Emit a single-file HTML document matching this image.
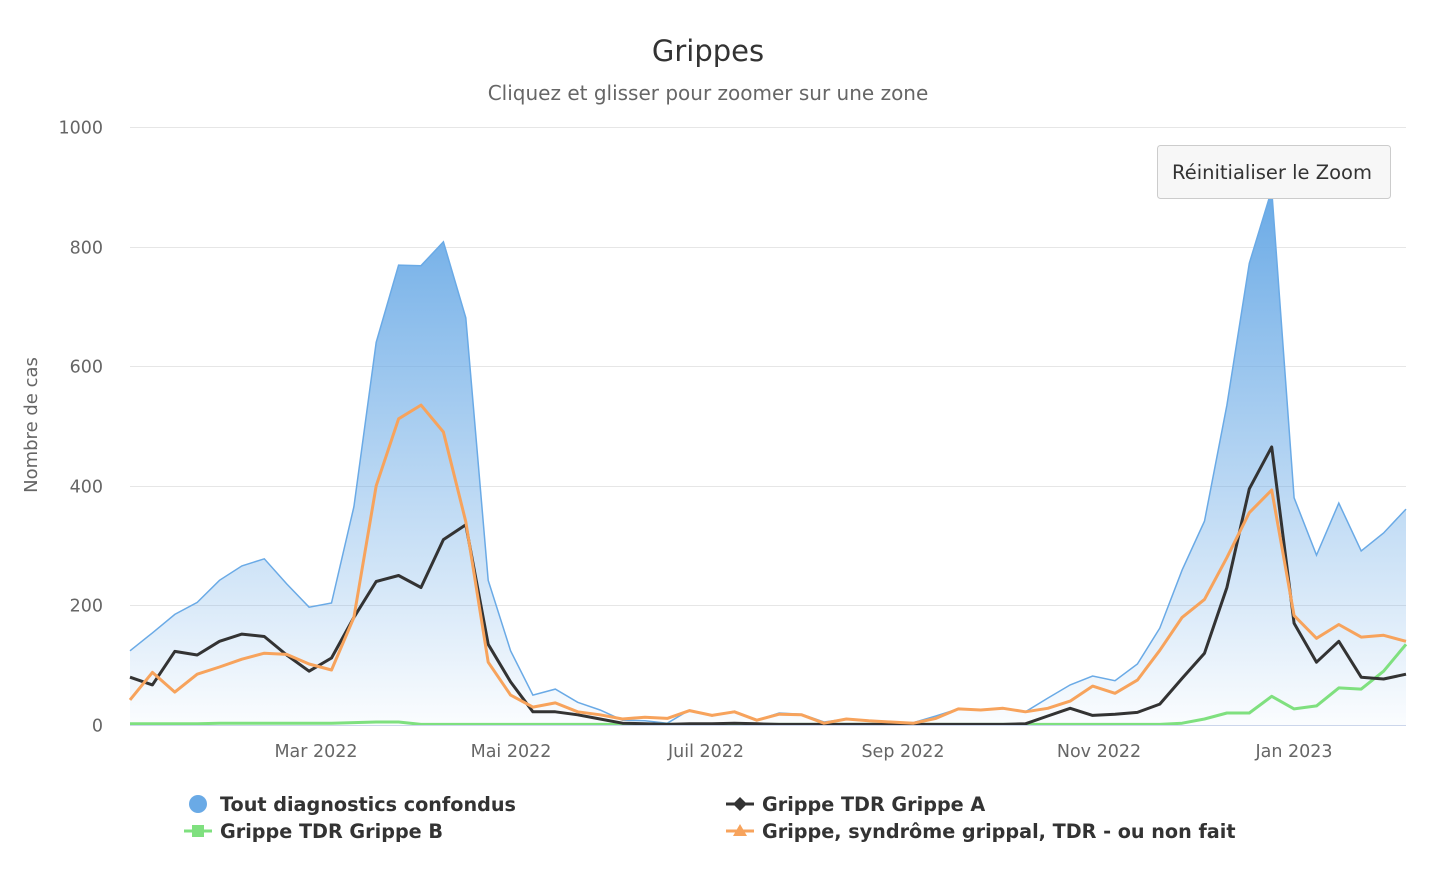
<!DOCTYPE html>
<html><head><meta charset="utf-8"><style>
body{margin:0;background:#fff;}
svg text{font-family:"DejaVu Sans",sans-serif;}
</style></head><body>
<svg id="c" width="1431" height="877" xmlns="http://www.w3.org/2000/svg">
<defs><linearGradient id="g" x1="0" y1="0" x2="0" y2="1">
<stop offset="0" stop-color="#6aaae6" stop-opacity="1"/>
<stop offset="1" stop-color="#6aaae6" stop-opacity="0.03"/>
</linearGradient></defs>
<text x="708" y="61" text-anchor="middle" font-size="29" fill="#333">Grippes</text>
<text x="708" y="100" text-anchor="middle" font-size="20" fill="#666">Cliquez et glisser pour zoomer sur une zone</text>
<g id="grid"></g>
<text transform="translate(37,425) rotate(-90)" text-anchor="middle" font-size="18" fill="#666">Nombre de cas</text>
<g id="series"></g>
<line x1="130" y1="725.5" x2="1406" y2="725.5" stroke="#ccd6eb" stroke-width="1"/>
<g font-size="17.5" fill="#666" text-anchor="middle">
<text x="316" y="757">Mar 2022</text><text x="511" y="757">Mai 2022</text><text x="706" y="757">Juil 2022</text>
<text x="903" y="757">Sep 2022</text><text x="1099" y="757">Nov 2022</text><text x="1294" y="757">Jan 2023</text>
</g>
<rect x="1157.5" y="145.5" width="233" height="53" rx="3" fill="#f7f7f7" stroke="#cccccc"/>
<text x="1272" y="179" text-anchor="middle" font-size="19.5" fill="#333">Réinitialiser le Zoom</text>
<g font-size="19.2" font-weight="bold" fill="#333">
<circle cx="198" cy="804" r="9" fill="#6aaae6"/>
<text x="220" y="811">Tout diagnostics confondus</text>
<line x1="184" y1="831" x2="212" y2="831" stroke="#7fe07f" stroke-width="3"/>
<rect x="192" y="825" width="12" height="12" fill="#7fe07f"/>
<text x="220" y="838">Grippe TDR Grippe B</text>
<line x1="726" y1="804" x2="754" y2="804" stroke="#333" stroke-width="3"/>
<path d="M740 797 L747 804 L740 811 L733 804Z" fill="#333"/>
<text x="762" y="811">Grippe TDR Grippe A</text>
<line x1="726" y1="831" x2="754" y2="831" stroke="#f7a35c" stroke-width="3"/>
<path d="M740 824 L747 836 L733 836Z" fill="#f7a35c"/>
<text x="762" y="838">Grippe, syndrôme grippal, TDR - ou non fait</text>
</g>
</svg>
<script>
var NS="http://www.w3.org/2000/svg";
function Y(v){return 725-v*0.598;}
function X(i){return 130+i*(1276/57);}
var grid=document.getElementById('grid');
for(var v=0;v<=1000;v+=200){
 var y=Math.round(Y(v))+0.5;
 if(v>0){var l=document.createElementNS(NS,'line');l.setAttribute('x1',130);l.setAttribute('x2',1406);l.setAttribute('y1',y);l.setAttribute('y2',y);l.setAttribute('stroke','#e6e6e6');grid.appendChild(l);}
 var t=document.createElementNS(NS,'text');t.setAttribute('x',103);t.setAttribute('y',y+6);t.setAttribute('text-anchor','end');t.setAttribute('font-size','17.5');t.setAttribute('fill','#666');t.textContent=v;grid.appendChild(t);
}
var blue=[124,154,185,205,242,266,278,236,197,204,365,640,769,768,808,681,242,124,50,60,38,25,8,7,3,25,15,23,8,20,18,5,10,7,5,4,15,27,25,28,22,45,67,82,74,102,162,259,341,535,772,895,380,284,371,291,321,361];
var orange=[42,88,55,85,97,110,120,118,102,92,180,400,512,535,490,340,105,50,30,37,22,17,10,13,11,24,16,22,8,18,17,3,10,7,5,3,11,27,25,28,22,28,40,65,53,75,125,180,210,280,355,393,183,145,168,147,150,140];
var black=[80,67,123,117,140,152,148,117,90,112,180,240,250,230,310,335,135,72,22,22,17,10,3,2,1,2,2,3,2,1,1,1,1,1,1,1,1,1,1,1,2,15,28,16,18,21,35,78,120,230,395,465,170,105,140,80,77,85];
var green=[2,2,2,2,3,3,3,3,3,3,4,5,5,1,1,1,1,1,1,1,1,1,1,1,1,1,1,1,1,1,1,1,1,1,1,1,1,1,1,1,1,1,1,1,1,1,1,3,10,20,20,48,27,32,62,60,90,135];
function pts(a){return a.map(function(v,i){return X(i).toFixed(1)+','+Y(v).toFixed(1);}).join(' L');}
var s=document.getElementById('series');
function add(d,attrs){var p=document.createElementNS(NS,'path');p.setAttribute('d',d);for(var k in attrs)p.setAttribute(k,attrs[k]);s.appendChild(p);}
add('M130,725 L'+pts(blue)+' L1406,725 Z',{fill:'url(#g)'});
add('M'+pts(blue),{fill:'none',stroke:'#6aaae6','stroke-width':1.5});
add('M'+pts(green),{fill:'none',stroke:'#7fe07f','stroke-width':3,'stroke-linejoin':'round'});
add('M'+pts(black),{fill:'none',stroke:'#333','stroke-width':3,'stroke-linejoin':'round'});
add('M'+pts(orange),{fill:'none',stroke:'#f7a35c','stroke-width':3,'stroke-linejoin':'round'});
</script>
</body></html>
